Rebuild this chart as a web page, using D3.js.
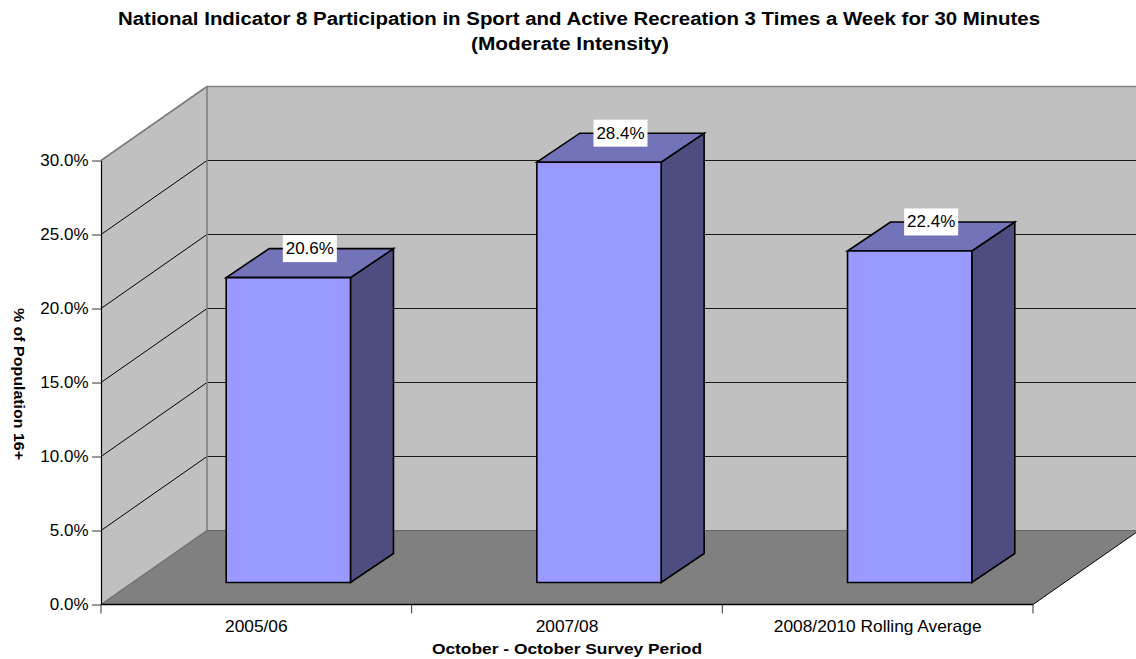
<!DOCTYPE html>
<html><head><meta charset="utf-8">
<script src="https://cdnjs.cloudflare.com/ajax/libs/d3/7.8.5/d3.min.js"></script>
<style>html,body{margin:0;padding:0;background:#fff}svg{display:block}text{font-family:"Liberation Sans",Arial,sans-serif;fill:#000}</style>
</head><body><svg id="c" width="1136" height="659"></svg>
<script>
const categories = ["2005/06", "2007/08", "2008/2010 Rolling Average"];
const values = [20.6, 28.4, 22.4];
const yTicks = [0, 5, 10, 15, 20, 25, 30];
const titleLines = ["National Indicator 8 Participation in Sport and Active Recreation 3 Times a Week for 30 Minutes", "(Moderate Intensity)"];
const xTitle = "October - October Survey Period";
const yTitle = "% of Population 16+";

const svg = d3.select("#c");
const plotLeft = 101, plotRight = 1033, plotBottom = 604.5, plotTop = 160.5;
const depthX = 106, depthY = 74;          // wall depth
const barInsetX = 32, barInsetY = 22;     // bar front plane offset from the front edge
const barDX = 43, barDY = 29;             // bar depth

const x = d3.scaleBand().domain(categories).range([plotLeft, plotRight]).paddingInner(0.6).paddingOuter(0.3);
const y = d3.scaleLinear().domain([0, 30]).range([plotBottom, plotTop]);
const poly = (pts, fill, stroke, sw) => svg.append("polygon")
  .attr("points", pts.map(p => p.join(",")).join(" ")).attr("fill", fill)
  .attr("stroke", stroke || "none").attr("stroke-width", sw || 0).attr("stroke-linejoin", "miter");
const line = (a, b, stroke, sw) => svg.append("line").attr("x1", a[0]).attr("y1", a[1]).attr("x2", b[0]).attr("y2", b[1])
  .attr("stroke", stroke).attr("stroke-width", sw);
// the reference's type is wider than the plain font at the same height
const stretch = (sel, k) => sel.each(function () {
  d3.select(this).attr("textLength", this.getComputedTextLength() * k).attr("lengthAdjust", "spacingAndGlyphs");
});

// walls and floor
poly([[plotLeft + depthX, y(30) - depthY], [plotRight + depthX, y(30) - depthY], [plotRight + depthX, y(0) - depthY], [plotLeft + depthX, y(0) - depthY]], "#C0C0C0");
poly([[plotLeft, y(0)], [plotLeft, y(30)], [plotLeft + depthX, y(30) - depthY], [plotLeft + depthX, y(0) - depthY]], "#C0C0C0");
poly([[plotLeft, y(0)], [plotLeft + depthX, y(0) - depthY], [plotRight + depthX, y(0) - depthY], [plotRight, y(0)]], "#808080");

// grid
yTicks.slice(1).forEach(t => {
  line([plotLeft, y(t)], [plotLeft + depthX, y(t) - depthY], "#000", 1);
  line([plotLeft + depthX, y(t) - depthY], [plotRight + depthX, y(t) - depthY], "#1a1a1a", 1);
});
line([plotLeft, y(30)], [plotLeft + depthX, y(30) - depthY], "#808080", 1.6);
line([plotLeft + depthX, y(30) - depthY], [plotRight + depthX, y(30) - depthY], "#808080", 1.6);
line([plotLeft + depthX, y(30) - depthY], [plotLeft + depthX, y(0) - depthY], "#808080", 1.6);
line([plotLeft, y(0)], [plotLeft + depthX, y(0) - depthY], "#6e6e6e", 1.2);
line([plotLeft + depthX, y(0) - depthY], [plotRight + depthX, y(0) - depthY], "#666", 1.2);
line([plotRight, y(0)], [plotRight + depthX, y(0) - depthY], "#000", 1);

// axes
const yAxisG = svg.append("g").attr("transform", `translate(${plotLeft},0)`)
  .call(d3.axisLeft(y).tickValues(yTicks).tickSize(9).tickSizeOuter(0).tickFormat(d => d.toFixed(1) + "%"));
yAxisG.select(".domain").attr("stroke", "#000").attr("stroke-width", 1.2);
yAxisG.selectAll(".tick line").attr("stroke", "#333").attr("stroke-width", 1);
yAxisG.selectAll(".tick text").attr("font-size", 16.5).attr("font-family", null).attr("x", -12.5).attr("dy", "0.3em").call(stretch, 1.03);

const xEdges = d3.range(categories.length + 1).map(i => plotLeft + (plotRight - plotLeft) * i / categories.length);
line([plotLeft, y(0)], [plotRight, y(0)], "#000", 1.4);
xEdges.forEach(e => line([e, y(0)], [e, y(0) + 9], "#333", 1));
categories.forEach((c, i) => svg.append("text").attr("x", (xEdges[i] + xEdges[i + 1]) / 2).attr("y", 631.5)
  .attr("text-anchor", "middle").attr("font-size", 16.5).text(c).call(stretch, 1.05));

// bars
categories.forEach((c, i) => {
  const x0 = x(c) + barInsetX, x1 = x0 + x.bandwidth();
  const t = y(values[i]) - barInsetY, yB = y(0) - barInsetY;
  const sw = 1.6, edge = "#000";
  poly([[x1, t], [x1 + barDX, t - barDY], [x1 + barDX, yB - barDY], [x1, yB]], "#4D4D80", edge, sw);
  poly([[x0, t], [x0 + barDX, t - barDY], [x1 + barDX, t - barDY], [x1, t]], "#7373B9", edge, sw);
  poly([[x0, t], [x1, t], [x1, yB], [x0, yB]], "#9999FF", edge, sw);
  const cx = (x0 + x1) / 2 + barDX / 2, cy = t - barDY;
  svg.append("rect").attr("x", cx - 27).attr("y", cy - 13.5).attr("width", 54).attr("height", 27).attr("fill", "#fff");
  svg.append("text").attr("x", cx).attr("y", cy + 5.5).attr("text-anchor", "middle").attr("font-size", 16.5).text(values[i].toFixed(1) + "%").call(stretch, 1.03);
});

// titles
svg.append("text").attr("x", 579).attr("y", 25).attr("text-anchor", "middle").attr("font-size", 17.5).attr("font-weight", "bold").text(titleLines[0]).attr("textLength", 922).attr("lengthAdjust", "spacingAndGlyphs");
svg.append("text").attr("x", 570).attr("y", 49.5).attr("text-anchor", "middle").attr("font-size", 17.5).attr("font-weight", "bold").text(titleLines[1]).attr("textLength", 198).attr("lengthAdjust", "spacingAndGlyphs");
svg.append("text").attr("x", 567).attr("y", 654).attr("text-anchor", "middle").attr("font-size", 15.5).attr("font-weight", "bold").text(xTitle).call(stretch, 1.12);
svg.append("text").attr("transform", "translate(13.5,384) rotate(90)").attr("text-anchor", "middle").attr("font-size", 15.5).attr("font-weight", "bold").text(yTitle).call(stretch, 1.03);
</script></body></html>
